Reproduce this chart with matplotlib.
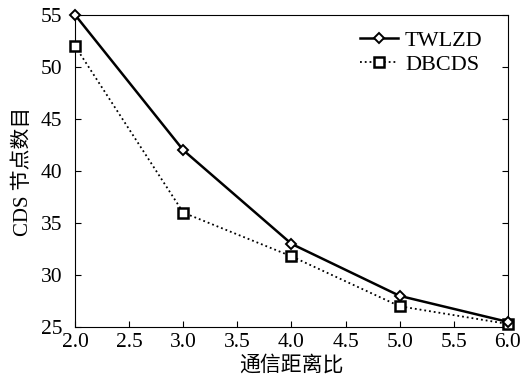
import matplotlib
matplotlib.use('Agg')
from matplotlib import pyplot

ratio = [2.0, 3.0, 4.0, 5.0, 6.0]
twlzd = [55.0, 42.0, 33.0, 28.0, 25.5]
dbcds = [52.0, 36.0, 31.8, 27.0, 25.3]
xticks = [2.0, 2.5, 3.0, 3.5, 4.0, 4.5, 5.0, 5.5, 6.0]
yticks = [25, 30, 35, 40, 45, 50, 55]

pyplot.rcParams['font.family'] = ['Liberation Serif', 'Noto Sans CJK SC']

fig = pyplot.figure(figsize=(5.29, 3.83), dpi=100)
ax = fig.add_axes([0.142, 0.146, 0.818, 0.815])

ax.plot(ratio, twlzd, color='black', linewidth=1.8, marker='D', markersize=5,
        markerfacecolor='white', markeredgecolor='black', markeredgewidth=1.4,
        label='TWLZD', clip_on=False, zorder=4)
ax.plot(ratio, dbcds, color='black', linewidth=1.3, linestyle=':', marker='s', markersize=6.5,
        markerfacecolor='white', markeredgecolor='black', markeredgewidth=1.8,
        label='DBCDS', clip_on=False, zorder=3)

ax.set_xlim(2.0, 6.0)
ax.set_ylim(25, 55)
ax.set_xticks(xticks)
ax.set_xticklabels(['%.1f' % t for t in xticks])
ax.set_yticks(yticks)
ax.tick_params(direction='in', right=True, top=False, labelsize=15.5, length=4)
ax.tick_params(axis='x', pad=4)
ax.tick_params(axis='y', pad=9)

ax.set_xlabel('通信距离比', fontsize=15, labelpad=3)
ax.set_ylabel('CDS 节点数目', fontsize=15, labelpad=6)

ax.legend(loc='upper right', frameon=False, fontsize=16, handlelength=1.7,
          handletextpad=0.3, labelspacing=0.15, borderaxespad=0,
          bbox_to_anchor=(0.962, 0.978))

fig.savefig('out.png', dpi=100)
